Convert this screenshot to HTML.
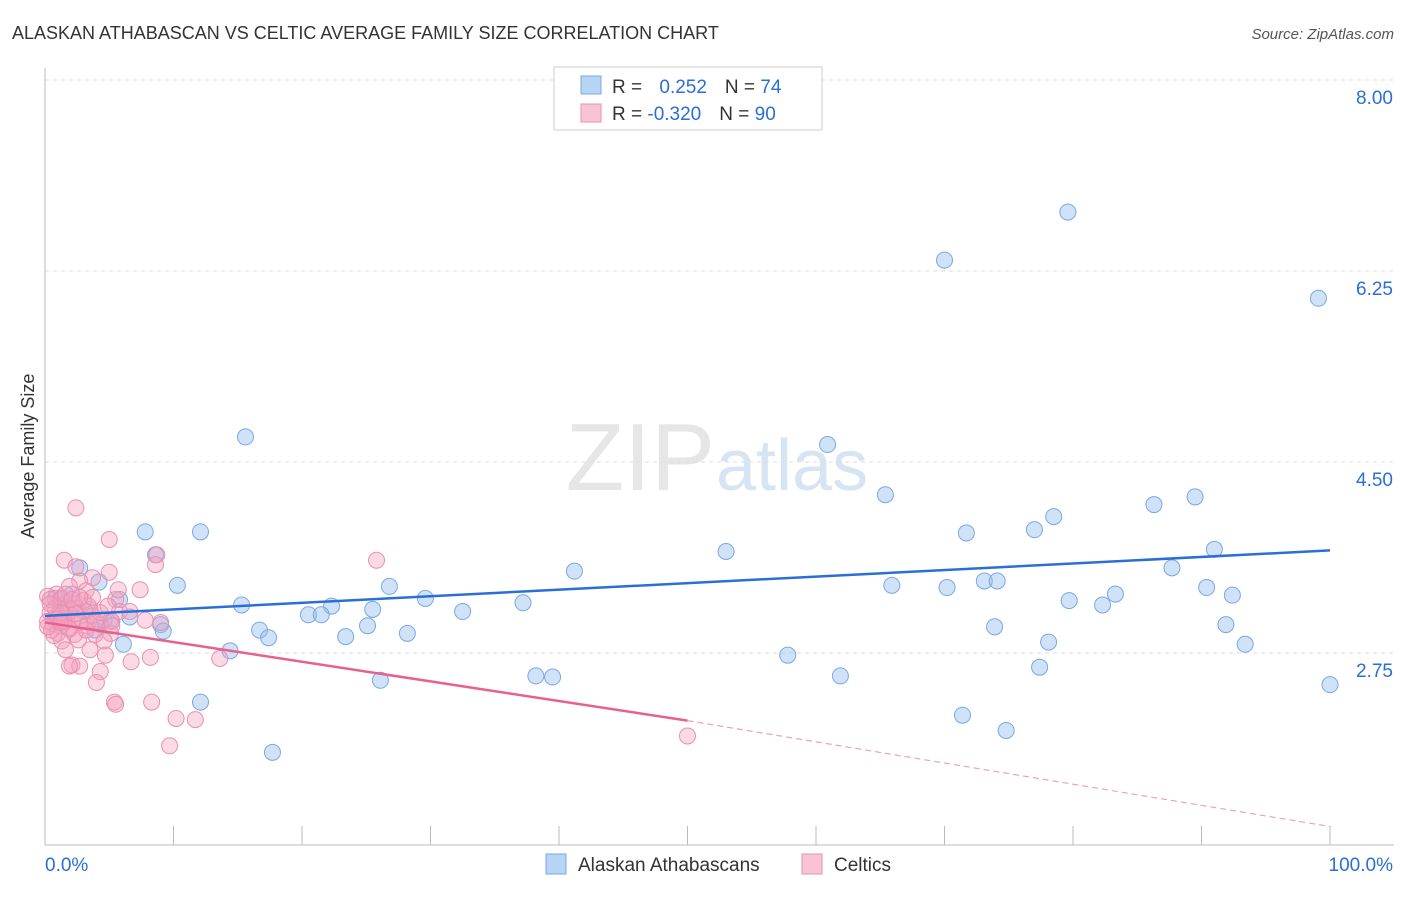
<!DOCTYPE html>
<html><head><meta charset="utf-8"><style>
body{margin:0;background:#fff;font-family:"Liberation Sans",sans-serif;}
svg text{font-family:"Liberation Sans",sans-serif;}
</style></head><body>
<svg id="chart" width="1406" height="892">
<text x="12" y="39" font-size="18" fill="#333">ALASKAN ATHABASCAN VS CELTIC AVERAGE FAMILY SIZE CORRELATION CHART</text>
<text x="1394" y="39" font-size="15" fill="#555" text-anchor="end" font-style="italic">Source: ZipAtlas.com</text>
<text x="715" y="490" font-size="96" fill="#e6e6e6" text-anchor="end" font-family="Liberation Serif">ZIP</text>
<text x="716" y="490" font-size="72" fill="#d7e4f3">atlas</text>
<g id="grid"></g><g id="axes"></g><g id="marks"></g>
<text x="34" y="456" font-size="18" fill="#333" text-anchor="middle" transform="rotate(-90 34 456)">Average Family Size</text>
<g>
<rect x="554" y="67" width="268" height="63" fill="#fff" stroke="#ccc"/>
<rect x="581" y="76" width="20" height="18" fill="#b8d4f4" stroke="#7aa8e0"/>
<rect x="581" y="104" width="20" height="18" fill="#f8c4d4" stroke="#e890b0"/>
<text x="612" y="93" font-size="19" fill="#333">R = <tspan fill="#2a6fd6" dx="12">0.252</tspan><tspan dx="18" fill="#333">N = </tspan><tspan fill="#2a6fd6">74</tspan></text>
<text x="612" y="120" font-size="19" fill="#333">R = <tspan fill="#2a6fd6">-0.320</tspan><tspan dx="18" fill="#333">N = </tspan><tspan fill="#2a6fd6">90</tspan></text>
</g>
<g>
<rect x="546" y="854" width="20" height="20" fill="#b8d4f4" stroke="#7aa8e0"/>
<text x="578" y="871" font-size="19" fill="#333">Alaskan Athabascans</text>
<rect x="802" y="854" width="20" height="20" fill="#f8c4d4" stroke="#e890b0"/>
<text x="834" y="871" font-size="19" fill="#333">Celtics</text>
</g>
</svg>
<script>
const yTicks=[2.75,4.50,6.25,8.00];
const xTickLabels=["0.0%","100.0%"];
const blueX=[79.6,70.0,99.1,15.6,60.9,65.4,89.5,86.3,78.5,77.0,71.7,7.8,12.1,91.0,53.0,8.6,2.7,87.7,41.2,4.2,10.3,26.8,65.9,70.2,73.1,74.1,90.4,83.3,92.4,29.6,79.7,0.8,2.1,5.8,15.3,22.3,37.2,82.3,25.5,32.5,20.5,21.5,6.6,1.6,4.6,9.0,0.8,25.1,73.9,91.9,16.7,3.9,9.2,17.4,23.4,28.2,78.1,93.4,6.1,14.4,57.8,77.4,38.2,39.5,61.9,26.1,100,12.1,71.4,74.8,17.7,1.2,3.1,5.2];
const blueY=[6.79,6.35,6.00,4.73,4.66,4.20,4.18,4.11,4.00,3.88,3.85,3.86,3.86,3.70,3.68,3.65,3.53,3.53,3.50,3.40,3.37,3.36,3.37,3.35,3.41,3.41,3.35,3.29,3.28,3.25,3.23,3.25,3.29,3.24,3.19,3.18,3.21,3.19,3.15,3.13,3.10,3.10,3.08,3.14,3.05,3.01,3.05,3.00,2.99,3.01,2.96,2.96,2.95,2.89,2.90,2.93,2.85,2.83,2.83,2.77,2.73,2.62,2.54,2.53,2.54,2.50,2.46,2.30,2.18,2.04,1.84,3.24,3.13,3.04];
const pinkX=[2.4,5.0,1.5,8.7,25.8,8.6,2.4,5.0,3.7,2.7,1.9,0.9,0.2,3.2,5.5,1.2,1.7,2.5,3.5,0.4,0.9,1.5,2.2,2.9,3.7,0.2,0.6,1.2,1.8,2.7,3.3,4.3,5.1,5.8,7.8,9.0,0.5,1.0,2.3,3.9,5.1,1.3,2.6,4.6,1.6,8.2,6.7,13.6,2.1,2.7,4.3,1.9,4.0,5.4,5.5,8.3,10.2,11.7,9.7,50.0,0.4,0.8,1.3,1.8,2.3,3.0,3.4,3.9,1.0,1.5,1.9,0.7,3.2,4.3,4.9,0.2,1.2,2.4,3.7,1.6,2.1,2.7,5.7,6.6,7.4,3.5,4.7,5.2,1.2,0.4];
const pinkY=[4.08,3.79,3.60,3.65,3.60,3.56,3.54,3.49,3.44,3.41,3.36,3.29,3.27,3.32,3.24,3.19,3.17,3.16,3.15,3.12,3.09,3.07,3.06,3.05,3.09,3.04,3.02,3.00,2.98,3.03,3.00,3.01,3.05,3.13,3.05,3.03,2.96,2.93,2.92,2.92,2.93,2.86,2.87,2.86,2.78,2.71,2.67,2.70,2.64,2.63,2.58,2.63,2.48,2.30,2.28,2.30,2.15,2.14,1.90,1.99,3.24,3.16,3.25,3.13,3.20,3.23,3.18,3.04,3.06,3.04,2.97,2.91,2.96,3.12,3.18,2.99,3.12,3.11,3.26,3.29,3.24,3.26,3.33,3.13,3.33,2.78,2.73,3.00,3.03,3.20];
const blueTrend=[3.09,3.69];
const pinkTrend=[3.03,2.13,1.16];
const X=v=>45+v*12.85, Y=v=>653-(v-2.75)*109.14;
const NS="http://www.w3.org/2000/svg";
function mk(tag,attrs,parent){const e=document.createElementNS(NS,tag);for(const k in attrs)e.setAttribute(k,attrs[k]);document.getElementById(parent).appendChild(e);return e;}
yTicks.forEach(t=>{
 const l=mk('line',{x1:45,x2:1394,y1:Y(t),y2:Y(t),stroke:'#ddd','stroke-dasharray':'4,4'},'grid');
 
 
 const tx=mk('text',{x:1393,y:Y(t)+24,'font-size':19,fill:'#2a6fd6','text-anchor':'end'},'grid');
 tx.textContent=t.toFixed(2);
 
 
});
const ax=mk('line',{x1:45,x2:45,y1:68,y2:845,stroke:'#bbb'},'axes');


const bx=mk('line',{x1:45,x2:1394,y1:845,y2:845,stroke:'#bbb'},'axes');


for(let i=1;i<=10;i++){const t=mk('line',{x1:X(i*10),x2:X(i*10),y1:826,y2:845,stroke:'#bbb'},'axes');
 
 }
[[0,45,'start'],[1,1393,'end']].forEach(([i,x,a])=>{const t=mk('text',{x:x,y:871,'font-size':19,fill:'#2a6fd6','text-anchor':a},'axes');t.textContent=xTickLabels[i];
 
 });
blueX.forEach((v,i)=>{const c=mk('circle',{cx:X(v),cy:Y(blueY[i]),r:8,fill:'rgba(150,190,240,0.45)',stroke:'#7aa8e0','stroke-width':1},'marks');
 
 });
pinkX.forEach((v,i)=>{const c=mk('circle',{cx:X(v),cy:Y(pinkY[i]),r:8,fill:'rgba(244,160,190,0.4)',stroke:'#e890b0','stroke-width':1},'marks');
 
 });
const bl=mk('line',{x1:X(0),y1:Y(blueTrend[0]),x2:X(100),y2:Y(blueTrend[1]),stroke:'#2a6fd6','stroke-width':2.5},'marks');


const pl=mk('line',{x1:X(0),y1:Y(pinkTrend[0]),x2:X(50),y2:Y(pinkTrend[1]),stroke:'#e8608c','stroke-width':2.5},'marks');


const pd=mk('line',{x1:X(50),y1:Y(pinkTrend[1]),x2:X(100),y2:Y(pinkTrend[2]),stroke:'#e8a0b8','stroke-width':1.2,'stroke-dasharray':'6,4'},'marks');


</script>
</body></html>
